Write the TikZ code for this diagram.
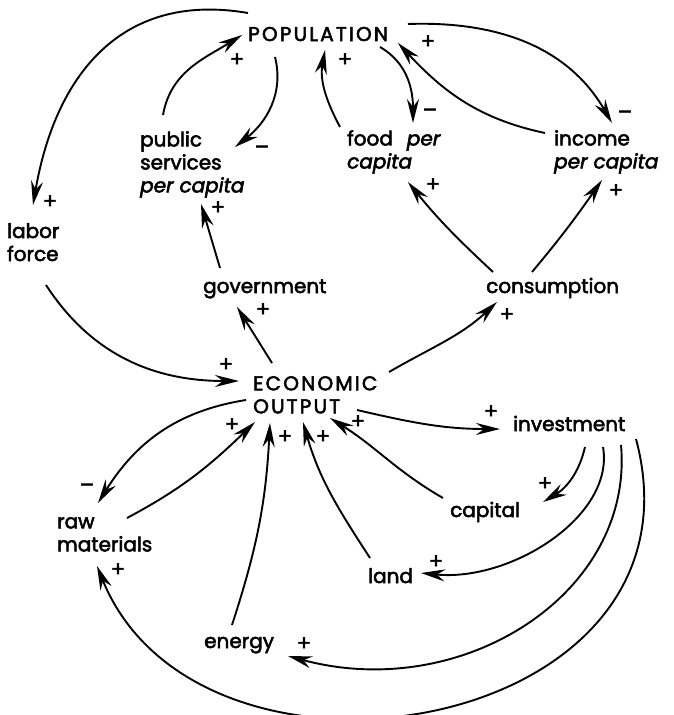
\documentclass[tikz,border=0pt]{standalone}
\usepackage{fontspec}
\setmainfont{Poppins}[FakeBold=2.6]
\newfontfamily\capfam{Poppins}[LetterSpace=11.0, FakeBold=2.6]
\usetikzlibrary{arrows.meta}
\newcommand{\lbfont}{\fontsize{20}{23}\selectfont}
\newcommand{\sgfont}{\fontsize{21}{21}\selectfont}
\tikzset{
  lbl/.style={font=\lbfont, inner sep=0pt, align=left},
  caplbl/.style={font=\lbfont\capfam, inner sep=0pt, align=left},
  sgn/.style={font=\sgfont, inner sep=0pt},
  link/.style={line width=1.9pt, -{Stealth[length=24pt,width=12pt,inset=8pt]}},
}
\begin{document}
\begin{tikzpicture}[x=1pt,y=1pt]
  \fill[white] (0,0) rectangle (674,-715);
  \useasboundingbox (0,0) rectangle (674,-715);

  % variables
  \node[caplbl, anchor=base west] (pop)  at (248,-41)  {POPULATION};
  \node[lbl, anchor=north west] (ps)   at (140,-131) {public\\services\\\textit{per capita}};
  \node[lbl, anchor=north west] (food) at (347,-130) {food\hspace{14pt}\textit{per}\\\textit{capita}};
  \node[lbl, anchor=north west] (inc)  at (554,-130) {income\\\textit{per capita}};
  \node[lbl, anchor=north west] (lab)  at (7,-223)   {labor\\force};
  \node[lbl, anchor=base west]  (gov)  at (203,-293) {government};
  \node[lbl, anchor=base west]  (cons) at (486,-293) {consumption};
  \node[caplbl, anchor=north west] (eco) at (253,-376) {ECONOMIC\\OUTPUT};
  \node[lbl, anchor=base west]  (inv)  at (513,-431) {investment};
  \node[lbl, anchor=north west] (raw)  at (57,-517)  {raw\\materials};
  \node[lbl, anchor=base west]  (cap)  at (450,-517) {capital};
  \node[lbl, anchor=base west]  (land) at (368,-583) {land};
  \node[lbl, anchor=base west]  (en)   at (204,-648) {energy};

  % causal links
  \draw[link] ([shift={(0,28)}]pop.base west) .. controls +(-128,22) and +(22,128) .. ([shift={(26,18)}]lab.north west);
  \draw[link] ([shift={(23,16)}]ps.north west) to[out=80,in=212] ([shift={(-6,6)}]pop.base west);
  \draw[link] ([shift={(27,-16)}]pop.base west) to[out=-76,in=38] ([shift={(95,-16)}]ps.north west);
  \draw[link] ([shift={(-7,3)}]food.north west) to[out=118,in=-100] ([shift={(77,-9)}]pop.base west);
  \draw[link] ([shift={(132,-6)}]pop.base west) to[out=-30,in=90] ([shift={(66,7)}]food.north west);
  \draw[link] ([shift={(160,17)}]pop.base west) to[out=2,in=120] ([shift={(58,7)}]inc.north west);
  \draw[link] ([shift={(-9,-3)}]inc.north west) to[out=168,in=-47] ([shift={(150,-2)}]pop.base west);
  \draw[link] ([shift={(7,21)}]cons.base west) to[out=137,in=-51] ([shift={(61,-52)}]food.north west);
  \draw[link] ([shift={(46,21)}]cons.base west) to[out=50,in=235] ([shift={(48,-50)}]inc.north west);
  \draw[link] ([shift={(17,25)}]gov.base west) -- ([shift={(61,-73)}]ps.north west);
  \draw[link] ([shift={(19,13)}]eco.north west) -- ([shift={(34,-14)}]gov.base west);
  \draw[link] ([shift={(136,4)}]eco.north west) to[out=30,in=223] ([shift={(11,-9)}]cons.base west);
  \draw[link] ([shift={(39,-62)}]lab.north west) to[out=-57,in=180] ([shift={(-14,-5)}]eco.north west);
  \draw[link] ([shift={(104,-34)}]eco.north west) to[out=-13,in=180] ([shift={(-13,2)}]inv.base west);
  \draw[link] ([shift={(-7,-24)}]eco.north west) to[out=-171,in=58] ([shift={(41,14)}]raw.north west);
  \draw[link] ([shift={(70,-1)}]raw.north west) to[out=28,in=224] ([shift={(2,-46)}]eco.north west);
  \draw[link] ([shift={(28,23)}]en.base west) to[out=72,in=-93] ([shift={(17,-47)}]eco.north west);
  \draw[link] ([shift={(2,25)}]land.base west) to[out=123,in=-74] ([shift={(50,-46)}]eco.north west);
  \draw[link] ([shift={(-7,19)}]cap.base west) to[out=150,in=-32] ([shift={(77,-42)}]eco.north west);
  \draw[link] ([shift={(72,-16)}]inv.base west) to[out=-103,in=31] ([shift={(93,15)}]cap.base west);
  \draw[link] ([shift={(90,-16)}]inv.base west) .. controls +(12,-69) and +(90,-9) .. ([shift={(53,10)}]land.base west);
  \draw[link] ([shift={(108,-14)}]inv.base west) .. controls +(13,-149) and +(174,-47) .. ([shift={(84,-8)}]en.base west);
  \draw[link] ([shift={(123,-8)}]inv.base west) .. controls +(79,-296) and +(103,-254) .. ([shift={(40,-49)}]raw.north west);

  % polarities
  \node[sgn] (s1)  at (50,-202)  {+};
  \node[sgn] (s2)  at (237,-60)  {+};
  \node[sgn] (s3)  at (262,-150) {–};
  \node[sgn] (s4)  at (345,-60)  {+};
  \node[sgn] (s5)  at (430,-113) {–};
  \node[sgn] (s6)  at (625,-115) {–};
  \node[sgn] (s7)  at (428,-42)  {+};
  \node[sgn] (s8)  at (433,-185) {+};
  \node[sgn] (s9)  at (616,-191) {+};
  \node[sgn] (s10) at (218,-208) {+};
  \node[sgn] (s11) at (263,-310) {+};
  \node[sgn] (s12) at (507,-315) {+};
  \node[sgn] (s13) at (226,-365) {+};
  \node[sgn] (s14) at (491,-412) {+};
  \node[sgn] (s15) at (87,-488)  {–};
  \node[sgn] (s16) at (232,-425) {+};
  \node[sgn] (s17) at (285,-437) {+};
  \node[sgn] (s18) at (323,-437) {+};
  \node[sgn] (s19) at (358,-422) {+};
  \node[sgn] (s20) at (545,-484) {+};
  \node[sgn] (s21) at (436,-562) {+};
  \node[sgn] (s22) at (304,-644) {+};
  \node[sgn] (s23) at (118,-570) {+};
\end{tikzpicture}
\end{document}
